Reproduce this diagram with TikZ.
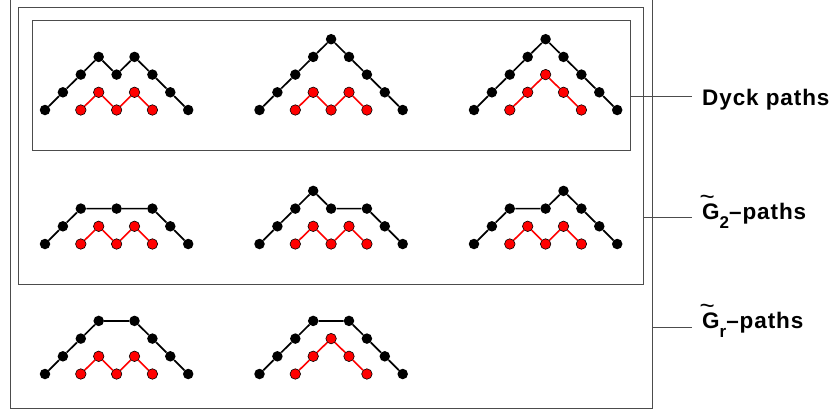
\documentclass[tikz,border=0pt]{standalone}
\usepackage{fontspec}
\newfontfamily\tagfont[LetterSpace=4]{Liberation Sans}
\usepackage{tikz}
\usetikzlibrary{calc,positioning}

\begin{document}
\begin{tikzpicture}[x=1pt,y=-1pt,
	bdot/.style={circle,fill=black,inner sep=0pt,minimum size=10.5pt},
	rdot/.style={circle,draw=black,fill=red,line width=0.6pt,inner sep=0pt,minimum size=10.5pt},
	bpath/.style={black,line width=1.7pt},
	rpath/.style={red,line width=1.6pt},
	frame/.style={draw=black!70,line width=0.8pt},
	tag/.style={inner sep=0pt,anchor=base west,font=\tagfont\bfseries\fontsize{22.5}{26}\selectfont}
	]
\useasboundingbox (0,0) rectangle (835,412);

% boxes
\draw[frame] (10,-3) rectangle (652,408);
\draw[frame] (18.5,7.5) rectangle (643,284);
\draw[frame] (32,20.5) rectangle (630,150);

% Dyck paths
\node[bdot](d1b0) at (45,110){}; \node[bdot](d1b1) at (62.9,92.3){}; \node[bdot](d1b2) at (80.8,74.6){};
\node[bdot](d1b3) at (98.7,56.9){}; \node[bdot](d1b4) at (116.6,74.6){}; \node[bdot](d1b5) at (134.5,56.9){};
\node[bdot](d1b6) at (152.4,74.6){}; \node[bdot](d1b7) at (170.3,92.3){}; \node[bdot](d1b8) at (188.2,110){};
\node[rdot](d1r0) at (80.8,110){}; \node[rdot](d1r1) at (98.7,92.3){}; \node[rdot](d1r2) at (116.6,110){};
\node[rdot](d1r3) at (134.5,92.3){}; \node[rdot](d1r4) at (152.4,110){};

\node[bdot](d2b0) at (259.5,110){}; \node[bdot](d2b1) at (277.4,92.3){}; \node[bdot](d2b2) at (295.3,74.6){};
\node[bdot](d2b3) at (313.2,56.9){}; \node[bdot](d2b4) at (331.1,39.2){}; \node[bdot](d2b5) at (349,56.9){};
\node[bdot](d2b6) at (366.9,74.6){}; \node[bdot](d2b7) at (384.8,92.3){}; \node[bdot](d2b8) at (402.7,110){};
\node[rdot](d2r0) at (295.3,110){}; \node[rdot](d2r1) at (313.2,92.3){}; \node[rdot](d2r2) at (331.1,110){};
\node[rdot](d2r3) at (349,92.3){}; \node[rdot](d2r4) at (366.9,110){};

\node[bdot](d3b0) at (474,110){}; \node[bdot](d3b1) at (491.9,92.3){}; \node[bdot](d3b2) at (509.8,74.6){};
\node[bdot](d3b3) at (527.7,56.9){}; \node[bdot](d3b4) at (545.6,39.2){}; \node[bdot](d3b5) at (563.5,56.9){};
\node[bdot](d3b6) at (581.4,74.6){}; \node[bdot](d3b7) at (599.3,92.3){}; \node[bdot](d3b8) at (617.2,110){};
\node[rdot](d3r0) at (509.8,110){}; \node[rdot](d3r1) at (527.7,92.3){}; \node[rdot](d3r2) at (545.6,74.6){};
\node[rdot](d3r3) at (563.5,92.3){}; \node[rdot](d3r4) at (581.4,110){};

\draw[bpath](d1b0)--(d1b1)--(d1b2)--(d1b3)--(d1b4)--(d1b5)--(d1b6)--(d1b7)--(d1b8);
\draw[rpath](d1r0)--(d1r1)--(d1r2)--(d1r3)--(d1r4);
\draw[bpath](d2b0)--(d2b1)--(d2b2)--(d2b3)--(d2b4)--(d2b5)--(d2b6)--(d2b7)--(d2b8);
\draw[rpath](d2r0)--(d2r1)--(d2r2)--(d2r3)--(d2r4);
\draw[bpath](d3b0)--(d3b1)--(d3b2)--(d3b3)--(d3b4)--(d3b5)--(d3b6)--(d3b7)--(d3b8);
\draw[rpath](d3r0)--(d3r1)--(d3r2)--(d3r3)--(d3r4);

% G2-paths
\node[bdot](g1b0) at (45,244){}; \node[bdot](g1b1) at (62.9,226.3){}; \node[bdot](g1b2) at (80.8,208.6){};
\node[bdot](g1b3) at (116.6,208.6){}; \node[bdot](g1b4) at (152.4,208.6){}; \node[bdot](g1b5) at (170.3,226.3){};
\node[bdot](g1b6) at (188.2,244){};
\node[rdot](g1r0) at (80.8,244){}; \node[rdot](g1r1) at (98.7,226.3){}; \node[rdot](g1r2) at (116.6,244){};
\node[rdot](g1r3) at (134.5,226.3){}; \node[rdot](g1r4) at (152.4,244){};

\node[bdot](g2b0) at (259.5,244){}; \node[bdot](g2b1) at (277.4,226.3){}; \node[bdot](g2b2) at (295.3,208.6){};
\node[bdot](g2b3) at (313.2,190.9){}; \node[bdot](g2b4) at (331.1,208.6){}; \node[bdot](g2b5) at (366.9,208.6){};
\node[bdot](g2b6) at (384.8,226.3){}; \node[bdot](g2b7) at (402.7,244){};
\node[rdot](g2r0) at (295.3,244){}; \node[rdot](g2r1) at (313.2,226.3){}; \node[rdot](g2r2) at (331.1,244){};
\node[rdot](g2r3) at (349,226.3){}; \node[rdot](g2r4) at (366.9,244){};

\node[bdot](g3b0) at (474,244){}; \node[bdot](g3b1) at (491.9,226.3){}; \node[bdot](g3b2) at (509.8,208.6){};
\node[bdot](g3b3) at (545.6,208.6){}; \node[bdot](g3b4) at (563.5,190.9){}; \node[bdot](g3b5) at (581.4,208.6){};
\node[bdot](g3b6) at (599.3,226.3){}; \node[bdot](g3b7) at (617.2,244){};
\node[rdot](g3r0) at (509.8,244){}; \node[rdot](g3r1) at (527.7,226.3){}; \node[rdot](g3r2) at (545.6,244){};
\node[rdot](g3r3) at (563.5,226.3){}; \node[rdot](g3r4) at (581.4,244){};

\draw[bpath](g1b0)--(g1b1)--(g1b2)--(g1b3)--(g1b4)--(g1b5)--(g1b6);
\draw[rpath](g1r0)--(g1r1)--(g1r2)--(g1r3)--(g1r4);
\draw[bpath](g2b0)--(g2b1)--(g2b2)--(g2b3)--(g2b4)--(g2b5)--(g2b6)--(g2b7);
\draw[rpath](g2r0)--(g2r1)--(g2r2)--(g2r3)--(g2r4);
\draw[bpath](g3b0)--(g3b1)--(g3b2)--(g3b3)--(g3b4)--(g3b5)--(g3b6)--(g3b7);
\draw[rpath](g3r0)--(g3r1)--(g3r2)--(g3r3)--(g3r4);

% Gr-paths
\node[bdot](h1b0) at (45,374){}; \node[bdot](h1b1) at (62.9,356.3){}; \node[bdot](h1b2) at (80.8,338.6){};
\node[bdot](h1b3) at (98.7,320.9){}; \node[bdot](h1b4) at (134.5,320.9){}; \node[bdot](h1b5) at (152.4,338.6){};
\node[bdot](h1b6) at (170.3,356.3){}; \node[bdot](h1b7) at (188.2,374){};
\node[rdot](h1r0) at (80.8,374){}; \node[rdot](h1r1) at (98.7,356.3){}; \node[rdot](h1r2) at (116.6,374){};
\node[rdot](h1r3) at (134.5,356.3){}; \node[rdot](h1r4) at (152.4,374){};

\node[bdot](h2b0) at (259.5,374){}; \node[bdot](h2b1) at (277.4,356.3){}; \node[bdot](h2b2) at (295.3,338.6){};
\node[bdot](h2b3) at (313.2,320.9){}; \node[bdot](h2b4) at (349,320.9){}; \node[bdot](h2b5) at (366.9,338.6){};
\node[bdot](h2b6) at (384.8,356.3){}; \node[bdot](h2b7) at (402.7,374){};
\node[rdot](h2r0) at (295.3,374){}; \node[rdot](h2r1) at (313.2,356.3){}; \node[rdot](h2r2) at (331.1,338.6){};
\node[rdot](h2r3) at (349,356.3){}; \node[rdot](h2r4) at (366.9,374){};

\draw[bpath](h1b0)--(h1b1)--(h1b2)--(h1b3)--(h1b4)--(h1b5)--(h1b6)--(h1b7);
\draw[rpath](h1r0)--(h1r1)--(h1r2)--(h1r3)--(h1r4);
\draw[bpath](h2b0)--(h2b1)--(h2b2)--(h2b3)--(h2b4)--(h2b5)--(h2b6)--(h2b7);
\draw[rpath](h2r0)--(h2r1)--(h2r2)--(h2r3)--(h2r4);

% labels
\coordinate (dyckA) at (630,96); \coordinate (dyckB) at (692,96);
\coordinate (gtwoA) at (643,217); \coordinate (gtwoB) at (692,217);
\coordinate (grA) at (652,327); \coordinate (grB) at (692,327);
\draw[frame](dyckA)--(dyckB);
\draw[frame](gtwoA)--(gtwoB);
\draw[frame](grA)--(grB);

\node[tag](dyck) at (702,105) {Dyck paths};
\node[tag](gtwo) at (702,219.3) {\makebox[0pt][l]{\hspace*{-0.12em}\raisebox{0.62em}{\mdseries\fontsize{26}{26}\selectfont\textasciitilde}}G\raisebox{-0.4em}{\fontsize{17}{17}\selectfont 2}–paths};
\node[tag](gr) at (702,328) {\makebox[0pt][l]{\hspace*{-0.12em}\raisebox{0.62em}{\mdseries\fontsize{26}{26}\selectfont\textasciitilde}}G\raisebox{-0.4em}{\fontsize{17}{17}\selectfont r}–paths};
\end{tikzpicture}
\end{document}
